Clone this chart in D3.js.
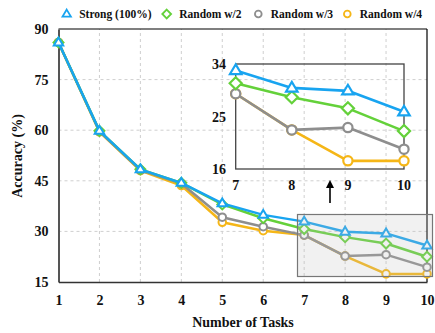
<!DOCTYPE html>
<html><head><meta charset="utf-8">
<script src="https://cdn.jsdelivr.net/npm/d3@7"></script>
<style>body{margin:0;background:#fff}svg{display:block}text{font-family:"Liberation Serif","Times New Roman",serif;font-weight:bold;fill:#111}</style>
</head><body><div id="chart"></div>
<script>
const tasks = [1,2,3,4,5,6,7,8,9,10];
const strong  = [86.0,59.8,48.4,44.4,38.3,34.9,32.9,29.9,29.4,25.8];
const randW2  = [86.0,59.8,48.4,44.4,38.0,33.9,30.7,28.3,26.4,22.5];
const randW3  = [86.0,59.6,48.2,44.2,34.2,31.4,28.9,22.7,23.1,19.4];
const randW4  = [86.0,59.5,48.0,43.6,32.7,30.2,28.9,22.7,17.4,17.4];
const seriesNames = ["Strong (100%)","Random w/2","Random w/3","Random w/4"];
const colors = ["#18a4f0","#64d13a","#8e8e8e","#f5b617"];
const shapes = ["triangle","diamond","circle","circle"];
const yTicks = [15,30,45,60,75,90];
const insetYTicks = [16,25,34];
const insetXTicks = [7,8,9,10];

const W=435,H=333;
const svg=d3.select("#chart").append("svg").attr("width",W).attr("height",H);
const x=d3.scaleLinear().domain([1,10]).range([58.5,427]);
const y=d3.scaleLinear().domain([15,90]).range([282,29]);
const data=[strong,randW2,randW3,randW4].map((v,i)=>({name:seriesNames[i],color:colors[i],shape:shapes[i],values:v.map((d,j)=>({x:tasks[j],y:d}))}));

// grid
svg.append("g").selectAll("line.v").data(tasks.slice(1,-1)).join("line")
  .attr("x1",d=>x(d)).attr("x2",d=>x(d)).attr("y1",y(15)).attr("y2",y(90))
  .attr("stroke","#cfcfcf").attr("stroke-dasharray","3,3").attr("stroke-width",1);
svg.append("g").selectAll("line.h").data(yTicks.slice(1,-1)).join("line")
  .attr("x1",x(1)).attr("x2",x(10)).attr("y1",d=>y(d)).attr("y2",d=>y(d))
  .attr("stroke","#cfcfcf").attr("stroke-dasharray","3,3").attr("stroke-width",1);

// frame top/right
svg.append("line").attr("x1",x(1)).attr("x2",x(10)).attr("y1",y(90)).attr("y2",y(90)).attr("stroke","#000").attr("stroke-width",1.2);
svg.append("line").attr("x1",x(10)).attr("x2",x(10)).attr("y1",y(90)).attr("y2",y(15)).attr("stroke","#000").attr("stroke-width",1.2);

// axes
const yAxis=d3.axisLeft(y).tickValues(yTicks).tickSize(0).tickPadding(10);
const gy=svg.append("g").attr("transform",`translate(${x(1)},0)`).call(yAxis);
gy.select(".domain").attr("stroke","#555").attr("stroke-width",2);
gy.selectAll("text").style("font-size","14px").attr("fill","#111");
const xAxis=d3.axisBottom(x).tickValues(tasks).tickSize(0).tickPadding(13).tickFormat(d3.format("d"));
const gx=svg.append("g").attr("transform",`translate(0,${y(15)})`).call(xAxis);
gx.select(".domain").attr("stroke","#333").attr("stroke-width",1.5);
gx.selectAll("text").style("font-size","14px").attr("fill","#111");

svg.append("text").attr("transform","translate(22,156) rotate(-90)").attr("text-anchor","middle").style("font-size","14px").text("Accuracy (%)");
svg.append("text").attr("x",243).attr("y",327).attr("text-anchor","middle").style("font-size","14px").text("Number of Tasks");

function marker(g,shape,color,cx,cy,s,sw){
  if(shape==="circle") g.append("circle").attr("cx",cx).attr("cy",cy).attr("r",s*0.42).attr("fill","#fff").attr("stroke",color).attr("stroke-width",sw);
  else if(shape==="triangle"){const r=s*0.55;g.append("path").attr("d",`M${cx},${cy-r}L${cx+r*0.95},${cy+r*0.6}L${cx-r*0.95},${cy+r*0.6}Z`).attr("fill","#fff").attr("stroke",color).attr("stroke-width",sw);}
  else {const r=s*0.55;g.append("path").attr("d",`M${cx},${cy-r}L${cx+r},${cy}L${cx},${cy+r}L${cx-r},${cy}Z`).attr("fill","#fff").attr("stroke",color).attr("stroke-width",sw);}
}

function drawSeries(g,xs,ys,filter,s,sw,lw){
  const line=d3.line().x(d=>xs(d.x)).y(d=>ys(d.y));
  data.slice().reverse().forEach(ser=>{
    const vals=ser.values.filter(filter);
    g.append("path").datum(vals).attr("d",line).attr("fill","none").attr("stroke",ser.color).attr("stroke-width",lw).attr("stroke-linejoin","round");
    vals.forEach(p=>marker(g,ser.shape,ser.color,xs(p.x),ys(p.y),s,sw));
  });
}
drawSeries(svg.append("g"),x,y,()=>true,9,2,2.5);

// shaded zoom region
svg.append("rect").attr("x",297.5).attr("y",214.5).attr("width",135).attr("height",62)
  .attr("fill","rgba(190,190,190,0.22)").attr("stroke","#777").attr("stroke-width",1.2);

// arrow
svg.append("defs").append("marker").attr("id","ah").attr("viewBox","0 0 10 10").attr("refX",5).attr("refY",5)
  .attr("markerWidth",5).attr("markerHeight",6).attr("orient","auto")
  .append("path").attr("d","M0,0L10,5L0,10Z").attr("fill","#000");
svg.append("line").attr("x1",330).attr("x2",330).attr("y1",203).attr("y2",184).attr("stroke","#000").attr("stroke-width",1.6).attr("marker-end","url(#ah)");

// inset
const ix=d3.scaleLinear().domain([7,10]).range([235.7,404]);
const iy=d3.scaleLinear().domain([16,34]).range([169,64]);
const ig=svg.append("g");
ig.append("rect").attr("x",ix(7)).attr("y",iy(34)).attr("width",ix(10)-ix(7)).attr("height",iy(16)-iy(34)).attr("fill","none").attr("stroke","#444").attr("stroke-width",1.3);
drawSeries(ig,ix,iy,d=>d.x>=7,11,2.2,2.6);
ig.selectAll("text.iy").data(insetYTicks).join("text").attr("x",226).attr("y",d=>iy(d)+5).attr("text-anchor","end").style("font-size","14px").text(d=>d);
ig.selectAll("text.ix").data(insetXTicks).join("text").attr("x",d=>ix(d)).attr("y",190).attr("text-anchor","middle").style("font-size","14px").text(d=>d);

// legend
const legX=[66.7,166.7,258.3,347.3];
const lg=svg.append("g");
data.forEach((ser,i)=>{
  marker(lg,ser.shape,ser.color,legX[i],14,ser.shape==="circle"?8:8,1.8);
  lg.append("text").attr("x",legX[i]+12.5).attr("y",18).style("font-size","11.5px").text(ser.name);
});
</script></body></html>
